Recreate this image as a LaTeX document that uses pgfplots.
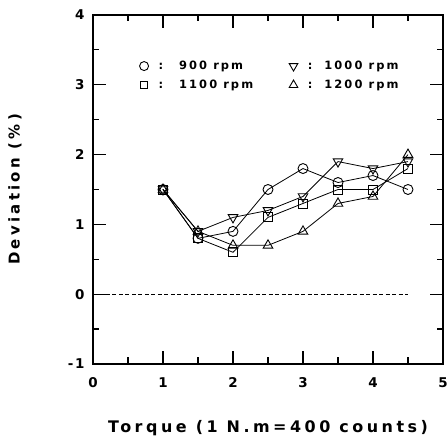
\documentclass[border=0pt]{standalone}
\usepackage{fontspec}
\setmainfont{DejaVu Sans}
\newfontfamily\wide[LetterSpace=22]{DejaVu Sans}
\newfontfamily\widel[LetterSpace=12]{DejaVu Sans}
\newfontfamily\widem[LetterSpace=18]{DejaVu Sans}
\usepackage{pgfplots}
\pgfplotsset{compat=1.18}
\newcommand{\gap}[1]{\rule{#1}{0pt}}
\begin{document}
\begin{tikzpicture}
\begin{axis}[
  scale only axis, width=350bp, height=349bp,
  xmin=0, xmax=5, ymin=-1, ymax=4,
  xtick={0,1,2,3,4,5}, ytick={-1,0,1,2,3,4},
  minor xtick={0.5,1.5,2.5,3.5,4.5},
  minor ytick={-0.5,0.5,1.5,2.5,3.5},
  tick align=inside, major tick length=13bp, minor tick length=6.5bp,
  axis line style={line width=1.6bp},
  every tick/.style={line width=1.2bp, black},
  /pgf/number format/assume math mode=true,
  tick label style={font=\widel\bfseries\fontsize{13.5}{14}\selectfont},
  xticklabel style={yshift=-10bp},
  yticklabel style={xshift=-5bp},
  xlabel={Torque (1 N.m=400 counts)},
  ylabel={Deviation (\%)},
  xlabel style={font=\wide\bfseries\fontsize{16}{18}\selectfont, at={(axis description cs:0.5,-0.183)}, anchor=center},
  ylabel style={font=\wide\bfseries\fontsize{15}{16}\selectfont, at={(axis description cs:-0.223,0.5)}, anchor=center},
  legend columns=2,
  legend cell align=left,
  legend style={draw=none, fill=none, at={(axis cs:0.62,3.40)}, anchor=north west,
    font=\widem\bfseries\fontsize{11.5}{13}\selectfont, row sep=5bp,
    /tikz/every even column/.append style={column sep=34bp}},
  clip=false,
]
\addplot[black, line width=0.5bp, dash pattern=on 4bp off 2.5bp, forget plot] coordinates {(0,0) (4.5,0)};
% 900 rpm
\addplot[black, line width=0.8bp, mark=o, mark size=5bp, mark options={fill=white, line width=0.9bp}, forget plot]
  coordinates {(1,1.5) (1.5,0.8) (2,0.9) (2.5,1.5) (3,1.8) (3.5,1.6) (4,1.7) (4.5,1.5)};
% 1000 rpm
\addplot[black, line width=0.8bp, mark=triangle, mark size=5.5bp, mark options={fill=white, rotate=180, line width=0.9bp}, forget plot]
  coordinates {(1,1.5) (1.5,0.9) (2,1.1) (2.5,1.2) (3,1.4) (3.5,1.9) (4,1.8) (4.5,1.9)};
% 1100 rpm
\addplot[black, line width=0.8bp, mark=square, mark size=4.5bp, mark options={fill=white, line width=0.9bp}, forget plot]
  coordinates {(1,1.5) (1.5,0.8) (2,0.6) (2.5,1.1) (3,1.3) (3.5,1.5) (4,1.5) (4.5,1.8)};
% 1200 rpm
\addplot[black, line width=0.8bp, mark=triangle, mark size=5.5bp, mark options={fill=white, line width=0.9bp}, forget plot]
  coordinates {(1,1.5) (1.5,0.9) (2,0.7) (2.5,0.7) (3,0.9) (3.5,1.3) (4,1.4) (4.5,2.0)};
\addlegendimage{black, only marks, mark=o, mark size=4.5bp, mark options={line width=0.9bp}}
\addlegendentry{\gap{8bp}:\gap{16bp}900 rpm}
\addlegendimage{black, only marks, mark=triangle, mark size=5bp, mark options={rotate=180, line width=0.9bp}}
\addlegendentry{\gap{8bp}:\gap{12bp}1000 rpm}
\addlegendimage{black, only marks, mark=square, mark size=3.5bp, mark options={line width=0.9bp}}
\addlegendentry{\gap{8bp}:\gap{16bp}1100 rpm}
\addlegendimage{black, only marks, mark=triangle, mark size=5bp, mark options={line width=0.9bp}}
\addlegendentry{\gap{8bp}:\gap{12bp}1200 rpm}
\end{axis}
\pgfresetboundingbox
\path ([shift={(-93bp,-77bp)}]current axis.south west) rectangle ([shift={(5bp,15bp)}]current axis.north east);
\end{tikzpicture}
\end{document}
